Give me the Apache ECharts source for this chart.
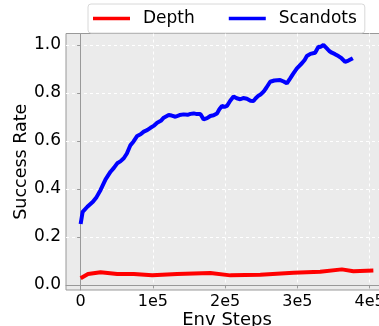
<!DOCTYPE html>
<html><head><meta charset="utf-8">
<script src="https://cdn.jsdelivr.net/npm/echarts@6/dist/echarts.min.js"></script>
<style>html,body{margin:0;padding:0;background:#fff}#c{width:379px;height:326px}</style>
</head><body><div id="c"></div>
<script>
const seriesNames = ['Depth', 'Scandots'];
const depthX = [0,10200,27600,50600,73600,99000,133500,179500,207200,248600,294600,331500,361500,377500,405100];
const depthY = [0.028,0.046,0.053,0.046,0.046,0.040,0.046,0.050,0.040,0.043,0.051,0.055,0.065,0.057,0.060];
const scanX = [0,2800,9300,17000,22000,27600,34500,41400,46000,50600,55000,59700,64000,69000,73000,78300,83000,87400,92000,96700,101000,105900,111000,115000,121900,126000,131200,137000,142600,148000,152000,156500,161000,165700,170200,175000,179500,184000,188700,192000,195600,199000,202500,207000,211600,216000,220900,225000,230100,235000,239200,242000,246100,249000,253000,257000,262300,268000,276200,281000,285400,290000,294000,299300,302000,306200,310000,313100,318000,324500,327000,329100,332000,336000,338000,340700,344000,347600,352000,356700,361000,366000,368000,370600,373000,376700];
const scanY = [0.254,0.305,0.326,0.347,0.366,0.396,0.44,0.472,0.488,0.507,0.515,0.528,0.548,0.583,0.597,0.621,0.628,0.639,0.645,0.655,0.663,0.676,0.684,0.697,0.708,0.706,0.701,0.708,0.711,0.709,0.713,0.715,0.712,0.7125,0.69,0.695,0.704,0.707,0.715,0.732,0.746,0.742,0.746,0.768,0.785,0.778,0.774,0.779,0.776,0.768,0.767,0.777,0.789,0.794,0.805,0.822,0.847,0.852,0.854,0.848,0.840,0.861,0.880,0.903,0.910,0.924,0.938,0.954,0.963,0.968,0.975,0.993,0.992,1.0,0.995,0.986,0.975,0.968,0.962,0.954,0.945,0.93,0.932,0.935,0.940,0.945];
const xTicks = [0,100000,200000,300000,400000];
const yTicks = [0,0.2,0.4,0.6,0.8,1.0];
const xName = 'Env Steps', yName = 'Success Rate';

const F = 'DejaVu Sans';
const chart = echarts.init(document.getElementById('c'), null, {renderer:'canvas'});
const zip = (a,b)=>a.map((v,i)=>[v,b[i]]);
chart.setOption({
  animation:false,
  grid:{left:66,right:-9,top:33.5,bottom:36,outerBoundsMode:'none',containLabel:false,show:true,backgroundColor:'#EBEBEB',borderColor:'#999',borderWidth:1},
  legend:{
    data:seriesNames, left:88, top:4, icon:'rect', itemWidth:37, itemHeight:3.5, itemGap:34,
    padding:[6,8,6,5], backgroundColor:'rgba(255,255,255,0.85)', borderColor:'#d8d8d8', borderWidth:1, borderRadius:3,
    textStyle:{fontFamily:F,fontSize:17,color:'#000',padding:[0,0,0,8]}
  },
  xAxis:{type:'value',min:-20255,max:425355,
    name:xName,nameLocation:'middle',nameGap:21,nameMoveOverlap:false,nameTextStyle:{fontFamily:F,fontSize:18,color:'#000'},
    axisLine:{show:true,lineStyle:{color:'#999',width:1}},
    axisTick:{show:true,customValues:xTicks,length:3.5,lineStyle:{color:'#999'}},
    axisLabel:{customValues:xTicks,fontFamily:F,fontSize:16,color:'#000',margin:4,
      formatter:v=>v===0?'0':Math.round(v/1e5)+'e5'},
    splitLine:{show:true,lineStyle:{color:'#fff',type:[3,3],width:1}}
  },
  yAxis:{type:'value',min:-0.021,max:1.048,
    name:yName,nameLocation:'middle',nameGap:36,nameMoveOverlap:false,nameTextStyle:{fontFamily:F,fontSize:17.5,color:'#000'},
    axisLine:{show:true,lineStyle:{color:'#999',width:1}},
    axisTick:{show:true,customValues:yTicks,length:3.5,lineStyle:{color:'#999'}},
    axisLabel:{customValues:yTicks,fontFamily:F,fontSize:17,color:'#000',margin:5,formatter:v=>v.toFixed(1)},
    splitLine:{show:true,lineStyle:{color:'#fff',type:[3,3],width:1}}
  },
  series:[
    {name:seriesNames[0],type:'line',data:zip(depthX,depthY),showSymbol:false,color:'#ff0000',lineStyle:{width:4,color:'#ff0000'}},
    {name:seriesNames[1],type:'line',data:zip(scanX,scanY),showSymbol:false,color:'#0000ff',lineStyle:{width:4,color:'#0000ff'}}
  ]
});
</script></body></html>
